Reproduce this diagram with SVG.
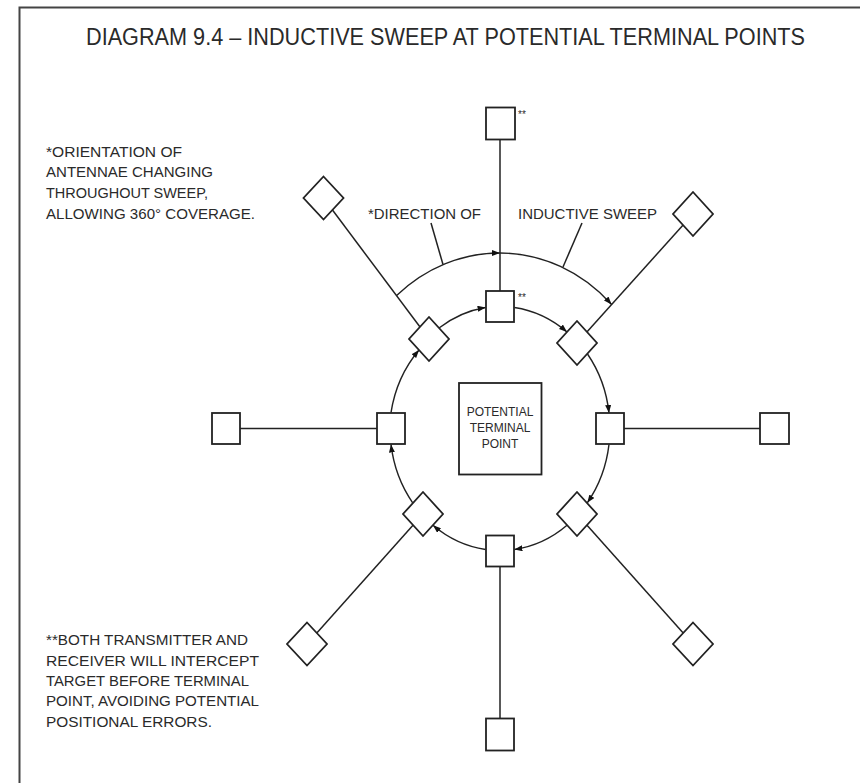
<svg xmlns="http://www.w3.org/2000/svg" width="860" height="783" viewBox="0 0 860 783">
<defs>
<style>
.frame{fill:none;stroke:#444;stroke-width:2}
.node{fill:#fff;stroke:#222;stroke-width:1.8}
.ln{fill:none;stroke:#222;stroke-width:1.5}
.arc{fill:none;stroke:#222;stroke-width:1.4}
.t{font-family:"Liberation Sans",Arial,sans-serif;fill:#2a2a2a}
.title{font-size:23px}
.note{font-size:15px}
.lab{font-size:15px}
.ctr{font-size:12px;text-anchor:middle}
.star{font-size:10px}
</style>
<marker id="ah" markerWidth="8" markerHeight="6" refX="8" refY="3" orient="auto" markerUnits="userSpaceOnUse">
<path d="M0,0 L8,3 L0,6 z" fill="#111"/>
</marker>
</defs>
<rect width="860" height="783" fill="#fff"/>
<path class="frame" d="M19.5 790 V7.5 H870"/>
<text class="t title" x="86" y="45" textLength="719" lengthAdjust="spacingAndGlyphs">DIAGRAM 9.4 – INDUCTIVE SWEEP AT POTENTIAL TERMINAL POINTS</text>

<g id="note1" class="t note">
<text x="46" y="156.7" textLength="136" lengthAdjust="spacingAndGlyphs">*ORIENTATION OF</text>
<text x="46" y="177.3" textLength="167" lengthAdjust="spacingAndGlyphs">ANTENNAE CHANGING</text>
<text x="46" y="198" textLength="162" lengthAdjust="spacingAndGlyphs">THROUGHOUT SWEEP,</text>
<text x="46" y="218.7" textLength="209" lengthAdjust="spacingAndGlyphs">ALLOWING 360° COVERAGE.</text>
</g>
<g id="note2" class="t note">
<text x="46" y="645" textLength="202" lengthAdjust="spacingAndGlyphs">**BOTH TRANSMITTER AND</text>
<text x="46" y="665.5" textLength="213" lengthAdjust="spacingAndGlyphs">RECEIVER WILL INTERCEPT</text>
<text x="46" y="686" textLength="203" lengthAdjust="spacingAndGlyphs">TARGET BEFORE TERMINAL</text>
<text x="46" y="706.3" textLength="213" lengthAdjust="spacingAndGlyphs">POINT, AVOIDING POTENTIAL</text>
<text x="46" y="726.5" textLength="166" lengthAdjust="spacingAndGlyphs">POSITIONAL ERRORS.</text>
</g>

<g id="connectors">
<line class="ln" x1="500" y1="139" x2="500" y2="291"/>
<line class="ln" x1="240" y1="428.5" x2="377" y2="428.5"/>
<line class="ln" x1="624" y1="428.5" x2="760" y2="428.5"/>
<line class="ln" x1="500" y1="566.5" x2="500" y2="718.5"/>
<line class="ln" x1="429" y1="339" x2="323.5" y2="198"/>
<line class="ln" x1="577" y1="343" x2="693" y2="214"/>
<line class="ln" x1="423" y1="514" x2="307" y2="644"/>
<line class="ln" x1="577" y1="514" x2="693" y2="644"/>
<path class="arc" d="M396.6 295.6 A158 175.5 0 0 1 500 253" marker-end="url(#ah)"/>
<path class="arc" d="M500 253 A158 175.5 0 0 1 611.6 304.5" marker-end="url(#ah)"/>
<line class="ln" x1="431" y1="223" x2="443" y2="264.5"/>
<line class="ln" x1="582" y1="223" x2="563" y2="267"/>
<path class="arc" d="M514.4 307.5 A110 122 0 0 1 567 332" marker-end="url(#ah)"/>
<path class="arc" d="M587.5 354 A110 122 0 0 1 609 413" marker-end="url(#ah)"/>
<path class="arc" d="M609 444.4 A110 122 0 0 1 587.3 502.8" marker-end="url(#ah)"/>
<path class="arc" d="M567 525.3 A110 122 0 0 1 514.4 549.5" marker-end="url(#ah)"/>
<path class="arc" d="M485.6 549.5 A110 122 0 0 1 433 525.3" marker-end="url(#ah)"/>
<path class="arc" d="M412.7 502.8 A110 122 0 0 1 391 444.4" marker-end="url(#ah)"/>
<path class="arc" d="M391 412.6 A110 122 0 0 1 419 350" marker-end="url(#ah)"/>
<path class="arc" d="M439 328 A110 122 0 0 1 485.6 307.5" marker-end="url(#ah)"/>
</g>

<g id="label-direction"><text class="t lab" x="368" y="219" textLength="113" lengthAdjust="spacingAndGlyphs">*DIRECTION OF</text></g>
<g id="label-sweep"><text class="t lab" x="518" y="219" textLength="139" lengthAdjust="spacingAndGlyphs">INDUCTIVE SWEEP</text></g>

<g id="outer-top"><rect class="node" x="486" y="107.5" width="29" height="32"/><text class="t star" x="518" y="118">**</text></g>
<g id="outer-left"><rect class="node" x="212" y="413" width="28" height="31"/></g>
<g id="outer-right"><rect class="node" x="760" y="413" width="29" height="31"/></g>
<g id="outer-bottom"><rect class="node" x="486" y="718.5" width="28" height="32"/></g>
<g id="outer-ul"><polygon class="node" points="323.5,176.5 343.5,198 323.5,219.5 303.5,198"/></g>
<g id="outer-ur"><polygon class="node" points="693,192 713,214 693,236 673,214"/></g>
<g id="outer-ll"><polygon class="node" points="307,622.5 327,644 307,665.5 287,644"/></g>
<g id="outer-lr"><polygon class="node" points="693,622.5 713,644 693,665.5 673,644"/></g>

<g id="inner-top"><rect class="node" x="486" y="291" width="28" height="31"/><text class="t star" x="518" y="300.5">**</text></g>
<g id="inner-left"><rect class="node" x="377" y="413" width="28" height="31"/></g>
<g id="inner-right"><rect class="node" x="596" y="413" width="28" height="31"/></g>
<g id="inner-bottom"><rect class="node" x="486" y="535.5" width="28" height="31"/></g>
<g id="inner-ul"><polygon class="node" points="429,317 449,339 429,361 409,339"/></g>
<g id="inner-ur"><polygon class="node" points="577,321 597,343 577,365 557,343"/></g>
<g id="inner-ll"><polygon class="node" points="423,492 443,514 423,536 403,514"/></g>
<g id="inner-lr"><polygon class="node" points="577,492 597,514 577,536 557,514"/></g>

<g id="terminal-point">
<rect class="node" x="459" y="383" width="82.5" height="91.5" stroke-width="1.6"/>
<text class="t ctr" x="500" y="416">POTENTIAL</text>
<text class="t ctr" x="500" y="432">TERMINAL</text>
<text class="t ctr" x="500" y="448">POINT</text>
</g>
</svg>
